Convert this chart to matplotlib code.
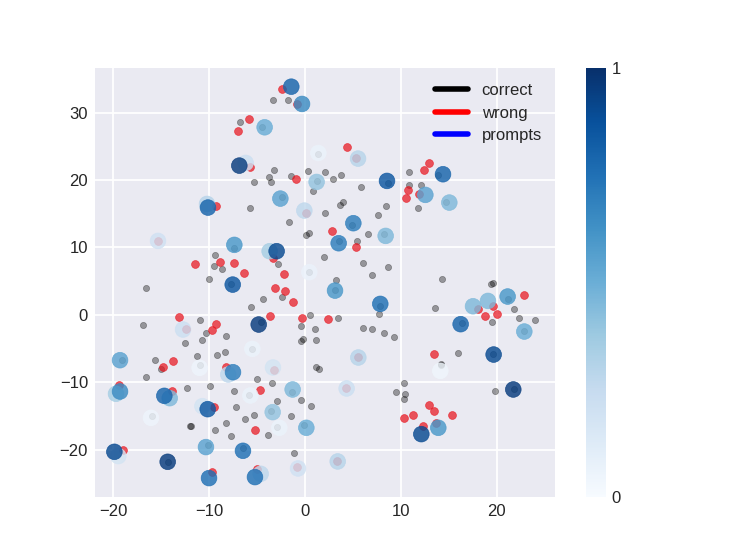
import matplotlib
matplotlib.use("Agg")
import matplotlib.pyplot as plt
from matplotlib.cm import ScalarMappable
from matplotlib.colors import Normalize
from matplotlib.lines import Line2D

plt.rcParams["font.family"] = ["Liberation Sans", "DejaVu Sans"]

# data

correct_x = [-3.3, -1.81, -6.75, -3.27, 0.28, 2.05, -3.79, -3.58, -5.32, -1.5, 0.87, -5.77, -1.67, 0.1, 0.45,
             2.05, -9.39, -9.49, -8.69, -2.78, 1.94, -10.0, 2.88, 3.79, 5.8, 3.61, 3.99, 8.48, 7.58, 6.53,
             5.42, 6.08, 6.99, 8.62, 3.23, 14.25, 10.81, 10.88, 12.13, 11.82, 19.36, 19.57, -16.62, -4.38,
             -5.6, -2.4, 0.52, -0.45, 1.01, -10.99, -16.9, -10.36, -8.24, -10.78, -12.55, -0.21, -0.42, 1.18,
             -11.23, -9.18, -8.34, -15.61, -15.05, -16.58, 1.1, 1.42, -5.01, -3.41, -12.34, -9.91, -7.44,
             -2.96, -0.45, 0.62, -7.2, -5.29, -6.22, -1.43, -8.2, -9.42, -12.0, -11.93, -7.68, -3.9, -1.11,
             3.44, 6.08, 6.95, 8.24, 9.31, 7.68, 13.59, 19.46, 21.79, 22.31, 24.02, 15.95, 14.15, 14.15,
             10.36, 9.52, 10.43, 10.32, 19.81,
             # the ones seen through a prompt
             -4.45, 1.39, 1.25, -2.43, 0.45, -7.37, 8.62, 13.9, 14.74, 4.93, 3.55, 8.24,
             -19.12, -5.56, -10.95, -4.62, -7.75, -1.36, -5.88, -3.51, -15.96, -2.96, -0.14, -10.12, -6.47, -14.29,
             3.13, 7.82, 16.37, 21.2, 22.84, 19.57, 21.76]
correct_y = [31.9, 31.9, 28.55, 21.54, 21.34, 21.24, 20.45, 19.76, 19.66, 20.55, 18.38, 15.81, 13.84, 11.91, 12.16,
             15.17, 8.85, 7.27, 6.87, 7.61, 8.65, 5.29, 20.16, 20.75, 18.97, 16.3, 16.8, 16.2, 14.77, 11.96,
             11.02, 7.76, 5.98, 7.07, 5.24, 5.29, 21.14, 19.22, 19.32, 15.81, 4.59, 4.74, 3.95, 2.32,
             1.18, 2.67, -0.05, -1.63, -2.12, -0.69, -1.53, -2.67, -3.11, -3.75, -4.1, -3.6, -3.9, -3.66,
             -6.17, -5.88, -5.43, -6.72, -8.0, -9.28, -7.8, -8.0, -9.58, -10.17, -10.87, -10.57, -11.31,
             -12.84, -12.69, -13.53, -13.63, -14.82, -15.51, -15.06, -16.05, -17.04, -16.5, -16.5, -17.98, -17.88, -20.45,
             -0.5, -1.88, -2.03, -2.67, -3.26, 0.2, 0.99, -1.04, 0.84, -0.49, -0.79, -5.58, -7.26, -7.5,
             -10.17, -11.36, -11.75, -12.4, -11.26,
             27.81, 23.86, 19.9, 17.49, 6.33, 9.93, 19.56, 20.8, 16.7, 13.34, 11.02, 12.06,
             -6.72, -5.04, -7.46, -1.09, 4.59, -11.46, -11.95, -14.32, -15.01, -16.69, -16.35, -19.36, -19.8, -21.78,
             3.65, 1.28, -1.19, 2.42, -2.42, -5.83, -11.01]

wrong_x = [-2.37, -0.87, -5.81, -7.02, -5.74, -0.94, -9.32, -11.51, -8.9, -7.44, -6.36, -2.23, -3.3,
           4.38, 2.78, 5.32, 12.9, 12.44, 10.7, 10.5, 11.92,
           -3.17, -2.12, -1.29, -3.65, -13.11, -0.35, 2.36, -9.25, -9.73, -13.73, -14.84, -8.27, -4.66,
           -19.4, -13.87, -9.53, -5.18, -19.02, -9.66, -5.04,
           22.87, 19.64, 18.0, 18.77, 20.02, 13.49, 12.93, 13.42, 11.23, 10.32, 15.36, 12.34, 13.66,
           # pink dots inside the light prompts
           0.07, -15.33, 5.32, -12.38, -3.27, -0.8, 5.49, 4.28, 3.3]
wrong_y = [33.49, 31.32, 29.09, 27.22, 21.93, 20.2, 16.16, 7.56, 7.86, 7.71, 6.18, 6.08, 8.45,
           24.85, 12.4, 10.13, 22.48, 21.44, 18.48, 17.34, 17.88,
           4.05, 3.55, 1.88, -0.1, -0.3, -0.4, -0.54, -1.38, -2.17, -6.91, -7.8, -7.75, -11.16,
           -10.42, -11.31, -13.63, -17.04, -20.1, -23.3, -22.8,
           3.01, 1.38, 0.84, -0.2, 0.2, -5.73, -13.33, -14.22, -14.91, -15.26, -14.82, -16.5, -16.05,
           15.17, 10.97, 23.32, -2.12, -8.15, -22.52, -6.27, -10.86, -21.68]

prompt_x = [-1.43, -0.31, -4.21, -6.19, -6.85, 1.39, 1.21, -2.57, -0.07, -10.22, -10.12, -15.33, -7.37, -3.69, -2.96,
            0.45, -7.54, 5.53, 8.55, 14.39, 12.55, 15.05, 5.04, 3.51, 8.41,
            -4.83, -12.72, -19.29, -5.49, -10.99, -3.34, -8.0, -7.51, -1.29, -19.71, -19.29, -14.11, -14.67,
            -5.7, -10.7, -10.15, -3.37, -16.06, -2.68, 0.14, -10.33, -6.47, -19.47, -19.88, -14.32, -0.73,
            -10.01, -4.62, -5.22,
            3.13, 7.85, 16.23, 17.52, 19.08, 21.13, 22.87, 19.67, 14.11, 21.72, 5.56, 4.34, 13.9, 12.13, 3.41]
prompt_y = [33.83, 31.27, 27.81, 22.53, 22.13, 24.0, 19.71, 17.24, 15.46, 16.45, 15.91, 10.97, 10.38, 9.44, 9.44,
            6.33, 4.49, 23.17, 19.86, 20.85, 17.79, 16.65, 13.59, 10.62, 11.71,
            -1.43, -2.17, -6.72, -5.04, -7.85, -7.8, -8.84, -8.5, -11.06, -11.7, -11.36, -12.35, -12.0,
            -11.95, -13.53, -13.98, -14.42, -15.26, -16.74, -16.74, -19.6, -20.15, -20.94, -20.3, -21.78, -22.77,
            -24.2, -23.56, -24.05,
            3.6, 1.63, -1.38, 1.28, 2.07, 2.72, -2.47, -5.88, -8.3, -11.06, -6.32, -10.91, -16.74, -17.68, -21.73]
prompt_value = [0.8, 0.65, 0.5, 0.22, 0.95, 0.06, 0.4, 0.55, 0.27, 0.3, 0.8, 0.2, 0.6, 0.35, 0.9,
                0.07, 0.85, 0.3, 0.85, 0.8, 0.55, 0.45, 0.7, 0.7, 0.45,
                0.95, 0.22, 0.55, 0.06, 0.05, 0.18, 0.27, 0.7, 0.45, 0.35, 0.65, 0.45, 0.8,
                0.06, 0.18, 0.85, 0.4, 0.05, 0.06, 0.5, 0.55, 0.75, 0.18, 0.9, 0.95, 0.2,
                0.75, 0.27, 0.75,
                0.6, 0.75, 0.8, 0.45, 0.45, 0.6, 0.5, 0.9, 0.04, 0.95, 0.3, 0.22, 0.6, 0.9, 0.3]

x_ticks = [-20, -10, 0, 10, 20]
y_ticks = [-20, -10, 0, 10, 20, 30]
legend_labels = ["correct", "wrong", "prompts"]
legend_colors = ["black", "red", "blue"]

# plot

fig = plt.figure(figsize=(7.47, 5.6), dpi=100)
ax = fig.add_axes([95 / 747, 1 - 497 / 560, 460 / 747, 429 / 560], facecolor="#EAEAF2")
cax = fig.add_axes([586 / 747, 1 - 497 / 560, 20 / 747, 429 / 560])

ax.grid(True, color="white", linewidth=1.3)
ax.set_axisbelow(True)
for spine in ax.spines.values():
    spine.set_visible(False)

# edge and fill overlap, which gives the darker rim of the dots
ax.scatter(correct_x, correct_y, s=20, c="black", alpha=0.36, linewidths=0.5, zorder=2)
ax.scatter(wrong_x, wrong_y, s=32, c="#e8101a", alpha=0.7, linewidths=0.5, zorder=3)
ax.scatter(prompt_x, prompt_y, s=128, c=prompt_value, cmap="Blues", vmin=0, vmax=1,
           alpha=0.82, linewidths=0.5, zorder=4)

ax.set_xlim(-21.9, 26.07)
ax.set_ylim(-27.0, 36.6)
ax.set_xticks(x_ticks)
ax.set_yticks(y_ticks)
ax.tick_params(length=0, labelsize=12, labelcolor="#262626", pad=5)

handles = [Line2D([], [], color=c, linewidth=4, solid_capstyle="round") for c in legend_colors]
ax.legend(handles, legend_labels, frameon=False, fontsize=12, loc="upper right",
          bbox_to_anchor=(1.004, 1.0), handlelength=2.0, handletextpad=0.8, labelspacing=0.46,
          labelcolor="#262626")

# colorbar
cb = fig.colorbar(ScalarMappable(Normalize(0, 1), "Blues"), cax=cax, ticks=[0, 1])
cb.outline.set_visible(False)
cb.ax.tick_params(length=0, labelsize=12, labelcolor="#262626", pad=4)

fig.savefig("out.png", dpi=100)
